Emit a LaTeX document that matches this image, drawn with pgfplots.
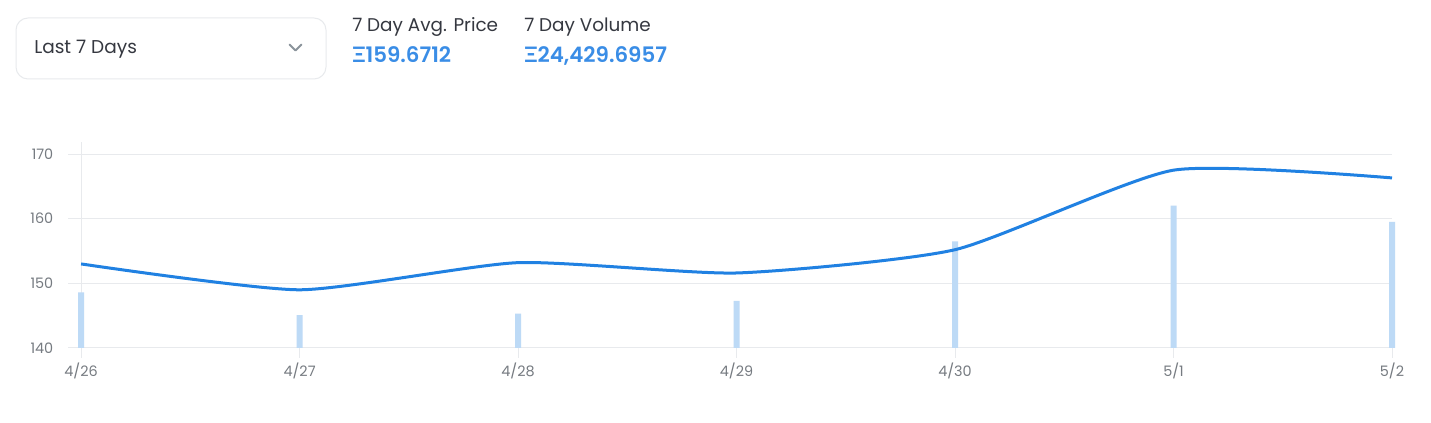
\documentclass[border=0pt]{standalone}
\usepackage{pgfplots}
\pgfplotsset{compat=1.18}
\usepackage{fontspec}
\setmainfont{Poppins}
\newfontfamily\symf{Lato}
\newfontfamily\semib{Poppins SemiBold}

\definecolor{osblue}{HTML}{2081E2}
\definecolor{valblue}{HTML}{3A8DE6}
\definecolor{barblue}{HTML}{BDDAF6}
\definecolor{gridc}{HTML}{E8EAED}
\definecolor{tickc}{HTML}{767B81}
\definecolor{txt}{HTML}{353840}
\definecolor{chev}{HTML}{8A939B}

% price and volume, one point a day (4/26 ... 5/2)
\pgfplotstableread{
day price
0 153.0
1 149.0
2 153.2
3 151.6
4 155.2
5 167.5
6 166.3
}\pricedata
% volume bars, height above the 140 line
\pgfplotstableread{
day vol
0 8.6
1 5.1
2 5.3
3 7.3
4 16.5
5 22.0
6 19.5
}\voldata

\pgfplotsset{chartbox/.style={
  scale only axis, width=993pt, height=145.5pt,
  xmin=-0.06, xmax=6,
  at={(51pt,-261pt)}, anchor=south west}}

\begin{document}
\begin{tikzpicture}
\path[use as bounding box, fill=white] (0,0) rectangle (1073.25pt,-317.25pt);

% header, in pixel units
\begin{scope}[x=0.75pt,y=-0.75pt]
  \draw[gridc, line width=0.75pt, rounded corners=9pt] (16,18) rectangle (326,79);
  \node[anchor=base west, inner sep=0, text=txt, font=\fontsize{13.9}{16}\selectfont] at (34,54) {Last 7 Days};
  \draw[chev, line width=1.5pt, line cap=round, line join=round] (289.5,44.5) -- (295.5,50.5) -- (301.5,44.5);
  \node[anchor=base west, inner sep=0, text=txt, font=\fontsize{13.8}{16}\selectfont] at (352,32) {7 Day Avg. Price};
  \node[anchor=base west, inner sep=0, text=txt, font=\fontsize{13.8}{16}\selectfont] at (524,32) {7 Day Volume};
  \node[anchor=base west, inner sep=0, text=valblue, font=\fontsize{16}{19}\selectfont\semib] at (352,63) {{\symf\bfseries Ξ}159.6712};
  \node[anchor=base west, inner sep=0, text=valblue, font=\fontsize{16}{19}\selectfont\semib] at (524,63) {{\symf\bfseries Ξ}24,429.6957};
\end{scope}

% grid, ticks and labels
\begin{axis}[chartbox,
  ymin=140, ymax=170,
  clip=false,
  axis line style={draw=none},
  xtick={0,...,6},
  xticklabels={4/26,4/27,4/28,4/29,4/30,5/1,5/2},
  ytick={140,150,160,170},
  xtick pos=bottom, ytick pos=left,
  tick align=outside, major tick length=7.5pt,
  xtick style={draw=gridc, line width=0.75pt},
  ytick style={draw=none},
  ymajorgrids,
  grid style={draw=gridc, line width=0.75pt},
  tick label style={font=\fontsize{10.8}{13}\selectfont, text=tickc},
  /pgf/number format/assume math mode=true,
  ]
  \draw[gridc, line width=0.75pt] (axis cs:0,171.85) -- (axis cs:0,140);
\end{axis}

% volume bars
\begin{axis}[chartbox, hide axis, ymin=0, ymax=30, clip=false]
  \addplot[ybar, bar width=4.5pt, fill=barblue, draw=none] table[x=day, y=vol] {\voldata};
\end{axis}

% price line
\begin{axis}[chartbox, hide axis, ymin=140, ymax=170, clip=false]
  \addplot[osblue, line width=2.25pt, smooth, tension=0.35] table[x=day, y=price] {\pricedata};
\end{axis}
\end{tikzpicture}
\end{document}
